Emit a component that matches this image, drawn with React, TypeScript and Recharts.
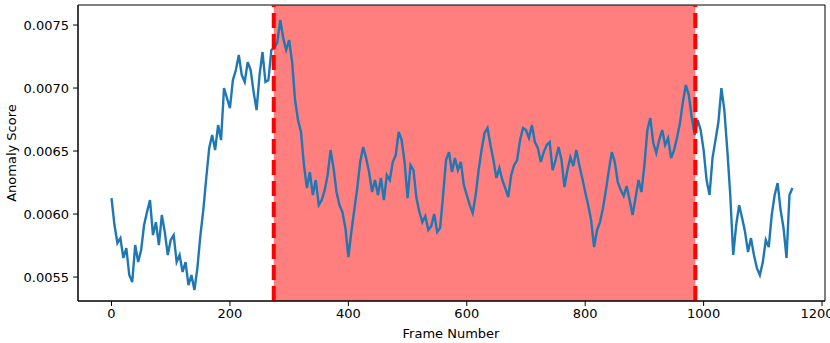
import React from "react";
import {
  LineChart,
  Line,
  XAxis,
  YAxis,
  ReferenceArea,
  ReferenceLine,
} from "recharts";

// anomaly score sampled every 5 frames (frame 0 .. 1150)
const frameStep = 5;
const scores = [
  0.006127, 0.005913, 0.00577, 0.005809, 0.005651, 0.00573, 0.005516, 0.00546, 0.005754, 0.005619,
  0.005714, 0.005913, 0.006016, 0.006111, 0.005833, 0.005936, 0.005754, 0.005992, 0.005857, 0.005675,
  0.005794, 0.005833, 0.005619, 0.005675, 0.00554, 0.005619, 0.005436, 0.005516, 0.005397, 0.005571,
  0.005825, 0.006032, 0.006286, 0.006524, 0.006627, 0.006508, 0.006706, 0.006587, 0.007, 0.006921,
  0.006841, 0.007063, 0.007143, 0.007262, 0.007103, 0.007048, 0.007206, 0.007143, 0.006968, 0.006825,
  0.007103, 0.007286, 0.007048, 0.007063, 0.007302, 0.007317, 0.007365, 0.00754, 0.007397, 0.007302,
  0.007381, 0.007206, 0.006905, 0.006746, 0.006651, 0.006389, 0.006206, 0.006333, 0.006151, 0.00627,
  0.006071, 0.006111, 0.00619, 0.006309, 0.006508, 0.006365, 0.006175, 0.006071, 0.006016, 0.005889,
  0.005659, 0.005857, 0.006032, 0.006206, 0.006413, 0.006532, 0.006444, 0.006333, 0.006175, 0.00627,
  0.006151, 0.006286, 0.006111, 0.006309, 0.00627, 0.006413, 0.006468, 0.006651, 0.006587, 0.006413,
  0.006127, 0.006389, 0.006349, 0.006127, 0.006016, 0.005936, 0.005984, 0.005873, 0.005904, 0.006,
  0.005857, 0.005889, 0.006151, 0.006429, 0.006492, 0.006333, 0.006444, 0.006349, 0.006413, 0.00623,
  0.006151, 0.006071, 0.006008, 0.006151, 0.006349, 0.006508, 0.006643, 0.006683, 0.006548, 0.006429,
  0.006286, 0.006365, 0.00627, 0.006206, 0.006135, 0.006309, 0.006389, 0.006429, 0.006587, 0.006683,
  0.006667, 0.006603, 0.006706, 0.006571, 0.006524, 0.006413, 0.006492, 0.006548, 0.006571, 0.006349,
  0.006429, 0.006532, 0.006429, 0.006214, 0.006349, 0.006452, 0.006381, 0.006508, 0.006389, 0.006286,
  0.006175, 0.006071, 0.005952, 0.005738, 0.005873, 0.005936, 0.006047, 0.00619, 0.006349, 0.006492,
  0.006413, 0.006254, 0.00619, 0.006143, 0.006222, 0.006111, 0.005992, 0.006127, 0.00627, 0.006175,
  0.006389, 0.006667, 0.006762, 0.006563, 0.006484, 0.006587, 0.006667, 0.006548, 0.006603, 0.006444,
  0.006508, 0.006603, 0.006722, 0.006889, 0.007024, 0.006944, 0.006762, 0.006627, 0.006746, 0.006667,
  0.006508, 0.00627, 0.006151, 0.006444, 0.006587, 0.00673, 0.007, 0.006825, 0.006508, 0.006151,
  0.005675, 0.005913, 0.006071, 0.005968, 0.005857, 0.005698, 0.005809, 0.005675, 0.005571, 0.005516,
  0.005619, 0.005794, 0.005738, 0.005992, 0.006151, 0.006246, 0.006032, 0.005889, 0.005651, 0.006151,
  0.006206,
];

const anomalyStart = 274;
const anomalyEnd = 986;

const xTicks = [0, 200, 400, 600, 800, 1000, 1200];
const yTicks = [0.0055, 0.006, 0.0065, 0.007, 0.0075];

const xDomain = [-56.6, 1205];
const yDomain = [0.00531, 0.007659];

const data = scores.map((s, i) => ({ frame: i * frameStep, score: s }));

const font = "DejaVu Sans";

const YLabel = () => (
  <text
    x={11}
    y={153}
    transform="rotate(-90 11 153)"
    textAnchor="middle"
    dominantBaseline="central"
    fontFamily={font}
    fontSize={13}
    fill="#000"
  >
    Anomaly Score
  </text>
);

const XLabel = () => (
  <text
    x={451}
    y={333}
    textAnchor="middle"
    dominantBaseline="central"
    fontFamily={font}
    fontSize={13}
    fill="#000"
  >
    Frame Number
  </text>
);

export default function App() {
  return (
    <div style={{ position: "absolute", left: 0, top: 0, background: "#fff" }}>
      <LineChart
        width={830}
        height={343}
        data={data}
        margin={{ top: 5, right: 5, bottom: 0, left: 0 }}
      >
        <XAxis
          dataKey="frame"
          type="number"
          domain={xDomain}
          ticks={xTicks}
          height={42}
          stroke="#000"
          tickSize={5}
          tickMargin={3}
          tick={{ fill: "#000", fontSize: 13, fontFamily: font }}
          label={<XLabel />}
        />
        <YAxis
          type="number"
          domain={yDomain}
          ticks={yTicks}
          width={78}
          stroke="#000"
          tickSize={5}
          tickMargin={4}
          tickFormatter={(v) => v.toFixed(4)}
          tick={{ fill: "#000", fontSize: 13, fontFamily: font }}
          label={<YLabel />}
        />
        <ReferenceArea
          x1={anomalyStart}
          x2={anomalyEnd}
          fill="#ff0000"
          fillOpacity={0.5}
          stroke="none"
        />
        <Line
          type="linear"
          dataKey="score"
          stroke="#1f77b4"
          strokeWidth={2.4}
          strokeLinejoin="miter"
          dot={false}
          isAnimationActive={false}
        />
        <ReferenceLine
          x={anomalyStart}
          stroke="#ff0000"
          strokeWidth={4}
          strokeDasharray="15 6"
        />
        <ReferenceLine
          x={anomalyEnd}
          stroke="#ff0000"
          strokeWidth={4}
          strokeDasharray="15 6"
        />
        <ReferenceArea
          x1={xDomain[0]}
          x2={xDomain[1]}
          y1={yDomain[0]}
          y2={yDomain[1]}
          fill="none"
          stroke="#000"
          strokeWidth={1}
        />
      </LineChart>
    </div>
  );
}
